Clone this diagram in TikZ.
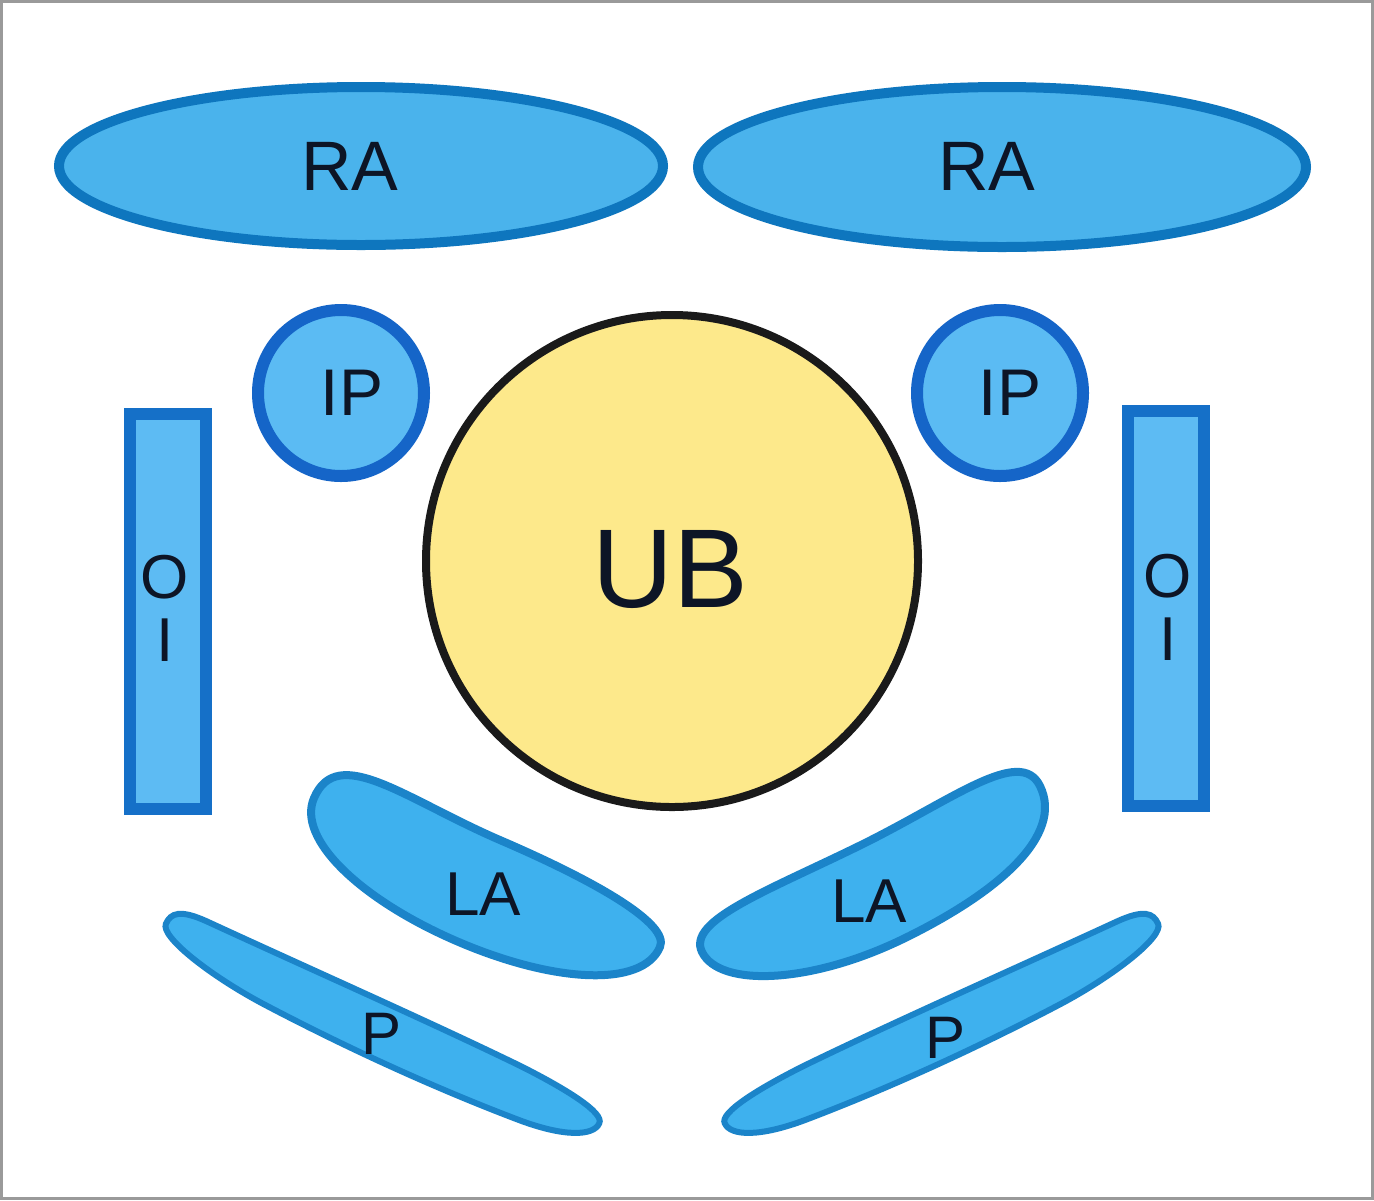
\documentclass[tikz,border=0pt]{standalone}
\usepackage{fontspec}
\setmainfont{Liberation Sans}
\usetikzlibrary{shapes.geometric}
\definecolor{rafill}{HTML}{4AB3EC}
\definecolor{rastroke}{HTML}{0E76BE}
\definecolor{ipfill}{HTML}{5BBBF3}
\definecolor{ipstroke}{HTML}{1565C8}
\definecolor{ubfill}{HTML}{FDE98B}
\definecolor{ubstroke}{HTML}{1A1A1A}
\definecolor{oifill}{HTML}{5DBBF3}
\definecolor{oistroke}{HTML}{1570C8}
\definecolor{lafill}{HTML}{3EB1EE}
\definecolor{lastroke}{HTML}{1B84C9}
\definecolor{txt}{HTML}{0D1526}
\definecolor{framecol}{HTML}{9A9A9A}
\begin{document}
\begin{tikzpicture}[x=0.5pt,y=-0.5pt,
  raell/.style={ellipse, draw=rastroke, fill=rafill, line width=5pt, inner sep=0pt},
  ipcirc/.style={circle, draw=ipstroke, fill=ipfill, line width=6pt, minimum size=83pt, inner sep=0pt},
  ubcirc/.style={circle, draw=ubstroke, fill=ubfill, line width=4pt, minimum size=246pt, inner sep=0pt},
  oibox/.style={rectangle, draw=oistroke, fill=oifill, line width=6pt, minimum width=38pt, minimum height=197.5pt, inner sep=0pt},
  lablob/.style={draw=lastroke, fill=lafill, line width=4pt},
  pblob/.style={draw=lastroke, fill=lafill, line width=3pt},
  lbl/.style={text=txt, inner sep=0pt, anchor=center}
]
\useasboundingbox (0,0) rectangle (1374,1200);
\fill[white] (0,0) rectangle (1374,1200);
\draw[framecol, line width=1.5pt] (1.5,1.5) rectangle (1372.5,1198.5);

% RA
\node[raell, minimum width=302pt, minimum height=79pt] (raL) at (361,166) {};
\node[raell, minimum width=304pt, minimum height=80pt] (raR) at (1002,167) {};
\node[lbl, font=\fontsize{35}{40}\selectfont] (raLt) at (350,166) {RA};
\node[lbl, font=\fontsize{35}{40}\selectfont] (raRt) at (987,166) {RA};

% IP
\node[ipcirc] (ipL) at (341,393) {};
\node[ipcirc] (ipR) at (1000,393) {};
\node[lbl, font=\fontsize{33}{38}\selectfont] (ipLt) at (352,393) {IP};
\node[lbl, font=\fontsize{33}{38}\selectfont] (ipRt) at (1010,393) {IP};

% UB
\node[ubcirc] (ub) at (672,561) {};
\node[lbl, font=\fontsize{56}{60}\selectfont] (ubt) at (670,570) {UB};

% O I boxes
\node[oibox] (oiL) at (168,611.5) {};
\node[oibox] (oiR) at (1165.5,608.5) {};
\node[lbl, align=center, font=\fontsize{31}{31.5}\selectfont] (oiLt) at (165,608) {O\\I};
\node[lbl, align=center, font=\fontsize{31}{31.5}\selectfont] (oiRt) at (1168,607) {O\\I};

% LA (left)
\draw[lablob] (314,798)
  .. controls (337.7,742.9) and (405.3,799.3) .. (500.8,840.4)
  .. controls (596.3,881.5) and (669.9,924.0) .. (660,947)
  .. controls (642.2,988.3) and (552.8,982.5) .. (457.3,941.4)
  .. controls (361.8,900.3) and (296.2,839.3) .. (314,798) -- cycle;
% LA (right)
\draw[lablob] (702,952)
  .. controls (686.6,920.6) and (766.2,891.5) .. (859.5,845.7)
  .. controls (952.8,799.9) and (1020.2,745.6) .. (1040,786)
  .. controls (1064.2,835.4) and (998.2,892.3) .. (904.9,938.1)
  .. controls (811.6,983.9) and (719.6,987.9) .. (702,952) -- cycle;
\node[lbl, font=\fontsize{31}{36}\selectfont] (laLt) at (483,894) {LA};
\node[lbl, font=\fontsize{31}{36}\selectfont] (laRt) at (869,901) {LA};

% P (left)
\draw[pblob] (165.9,923.8)
  .. controls (170.8,912.8) and (180.1,909.3) .. (206.5,921.2)
  .. controls (311.0,969.4) and (429.9,1021.9) .. (519.9,1065.7)
  .. controls (564.6,1088.1) and (605.0,1112.8) .. (599.2,1123.4)
  .. controls (593.4,1136.1) and (564.4,1137.3) .. (517.6,1119.5)
  .. controls (423.9,1083.9) and (333.6,1041.0) .. (262.7,1003.6)
  .. controls (209.6,975.3) and (160.2,936.5) .. (165.9,923.8) -- cycle;
% P (right)
\draw[pblob] (1158.1,923.8)
  .. controls (1153.2,912.8) and (1143.9,909.3) .. (1117.5,921.2)
  .. controls (1013.0,969.4) and (894.1,1021.9) .. (804.1,1065.7)
  .. controls (759.4,1088.1) and (719.0,1112.8) .. (724.8,1123.4)
  .. controls (730.6,1136.1) and (759.6,1137.3) .. (806.4,1119.5)
  .. controls (900.1,1083.9) and (990.4,1041.0) .. (1061.3,1003.6)
  .. controls (1114.4,975.3) and (1163.8,936.5) .. (1158.1,923.8) -- cycle;
\node[lbl, font=\fontsize{30}{35}\selectfont] (pLt) at (382,1034) {P};
\node[lbl, font=\fontsize{30}{35}\selectfont] (pRt) at (945,1038) {P};
\end{tikzpicture}
\end{document}
